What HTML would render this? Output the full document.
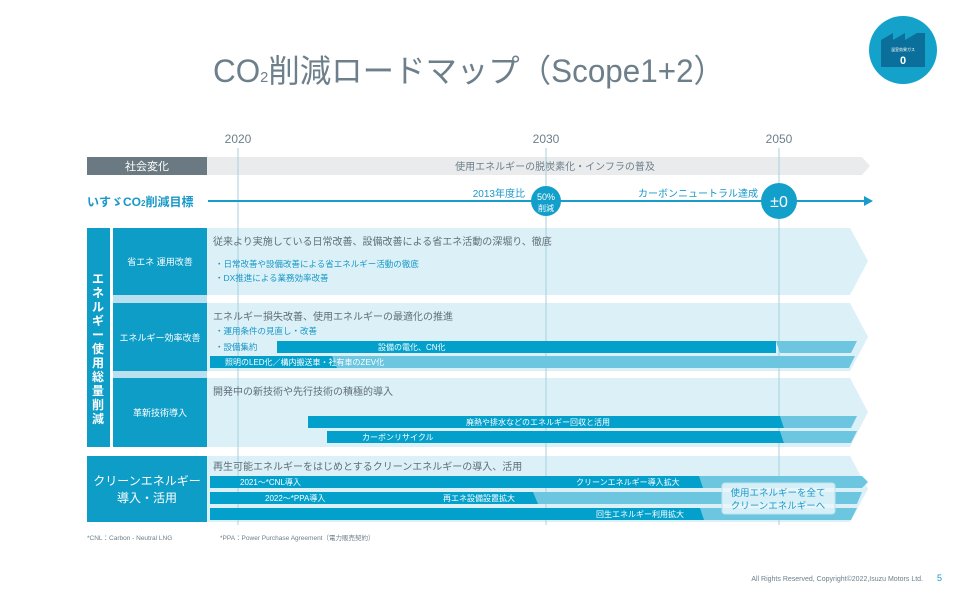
<!DOCTYPE html>
<html><head><meta charset="utf-8"><style>
html,body{margin:0;padding:0;background:#fff;}
svg{display:block;font-family:"Liberation Sans","Noto Sans CJK JP",sans-serif;}
</style></head><body>
<svg width="958" height="599" viewBox="0 0 958 599" xmlns="http://www.w3.org/2000/svg">
<!-- title -->
<text x="213" y="82" font-size="32" fill="#6d7f8a" textLength="512" lengthAdjust="spacingAndGlyphs">CO<tspan font-size="15">2</tspan>削減ロードマップ（Scope1+2）</text>
<!-- icon -->
<circle cx="903" cy="50" r="34" fill="#14a2cb"/>
<path d="M881 40 L893 33 L893 40 L905 33 L905 40 L917 33 L925 33 L925 67 L881 67 Z" fill="#0b6f9b"/>
<text x="903" y="51" text-anchor="middle" font-size="4" fill="#fff">温室効果ガス</text>
<text x="903" y="64" text-anchor="middle" font-size="11" font-weight="bold" fill="#fff">0</text>

<!-- years -->
<g font-size="12" fill="#6d7f8a" text-anchor="middle">
<text x="238" y="143">2020</text><text x="546" y="143">2030</text><text x="779" y="143">2050</text>
</g>

<!-- social bar -->
<path d="M207 157 L862 157 L870 166 L862 175 L207 175 Z" fill="#e9ebed"/>
<rect x="87" y="157" width="120" height="18" fill="#6b7a82"/>
<text x="147" y="170" text-anchor="middle" font-size="11" fill="#fff">社会変化</text>
<text x="555" y="170" text-anchor="middle" font-size="10" fill="#6d7f8a">使用エネルギーの脱炭素化・インフラの普及</text>

<!-- panels -->
<g fill="#dcf0f7">
<path d="M207 228 L850 228 L868 261 L850 295 L207 295 Z"/>
<path d="M207 303 L850 303 L868 337 L850 371 L207 371 Z"/>
<path d="M207 378 L850 378 L868 412 L850 447 L207 447 Z"/>
<path d="M207 456 L850 456 L868 489 L850 522 L207 522 Z"/>
</g>
<rect x="113" y="295" width="94" height="8" fill="#b8e0ee"/>
<rect x="113" y="371" width="94" height="7" fill="#b8e0ee"/>

<!-- vertical lines -->
<g stroke="#a9cfdd" stroke-width="1">
<line x1="238" y1="148" x2="238" y2="525"/>
<line x1="546" y1="148" x2="546" y2="525"/>
<line x1="779" y1="148" x2="779" y2="525"/>
</g>

<!-- target line -->
<text x="87" y="206" font-size="12" fill="#1898c8" font-weight="bold">いすゞCO<tspan font-size="8">2</tspan>削減目標</text>
<line x1="208" y1="201" x2="866" y2="201" stroke="#1a9ccb" stroke-width="2"/>
<path d="M864 196 L873 201 L864 206 Z" fill="#1a9ccb"/>

<!-- bars -->
<g>
<path d="M776 341 L857 341 L851 353 L780 353 Z" fill="#6cc6e0"/>
<rect x="277" y="341" width="499" height="12" fill="#03a0cb"/>
<path d="M210 356 L855 356 L849 368 L210 368 Z" fill="#6cc6e0"/>
<path d="M210 356 L332 356 L337 368 L210 368 Z" fill="#03a0cb"/>

<path d="M780 416 L857 416 L851 428 L784 428 Z" fill="#6cc6e0"/>
<path d="M308 416 L780 416 L784 428 L308 428 Z" fill="#03a0cb"/>
<path d="M780 431 L857 431 L851 443 L784 443 Z" fill="#6cc6e0"/>
<path d="M327 431 L780 431 L784 443 L327 443 Z" fill="#03a0cb"/>

<path d="M210 476 L862 476 L868 482 L862 488 L210 488 Z" fill="#6cc6e0"/>
<path d="M210 476 L699 476 L703 488 L210 488 Z" fill="#03a0cb"/>
<path d="M210 492 L862 492 L857 504 L210 504 Z" fill="#6cc6e0"/>
<path d="M210 492 L533 492 L538 504 L210 504 Z" fill="#03a0cb"/>
<path d="M210 508 L857 508 L851 520 L210 520 Z" fill="#6cc6e0"/>
<path d="M210 508 L700 508 L704 520 L210 520 Z" fill="#03a0cb"/>
</g>

<!-- circles -->
<circle cx="546" cy="201" r="15" fill="#12a0cb"/>
<text x="546" y="200" text-anchor="middle" font-size="9" fill="#fff">50%</text>
<text x="546" y="211" text-anchor="middle" font-size="8" fill="#fff">削減</text>
<circle cx="779" cy="201" r="18" fill="#12a0cb"/>
<text x="779" y="207" text-anchor="middle" font-size="16" fill="#fff">±0</text>
<text x="525" y="197" text-anchor="end" font-size="10" fill="#1898c8">2013年度比</text>
<text x="758" y="197" text-anchor="end" font-size="10" fill="#1898c8">カーボンニュートラル達成</text>

<!-- left boxes -->
<rect x="87" y="228" width="23" height="219" fill="#0e9dc7"/>
<text font-size="12" font-weight="bold" fill="#fff" text-anchor="middle">
<tspan x="98" y="283">エ</tspan><tspan x="98" y="297">ネ</tspan><tspan x="98" y="311">ル</tspan><tspan x="98" y="325">ギ</tspan><tspan x="98" y="339">ー</tspan><tspan x="98" y="353">使</tspan><tspan x="98" y="367">用</tspan><tspan x="98" y="381">総</tspan><tspan x="98" y="395">量</tspan><tspan x="98" y="409">削</tspan><tspan x="98" y="423">減</tspan>
</text>
<g fill="#0e9dc7">
<rect x="113" y="228" width="94" height="67"/>
<rect x="113" y="303" width="94" height="68"/>
<rect x="113" y="378" width="94" height="69"/>
<rect x="87" y="456" width="120" height="66"/>
</g>
<g font-size="9" fill="#fff" text-anchor="middle">
<text x="160" y="265">省エネ 運用改善</text>
<text x="160" y="341">エネルギー効率改善</text>
<text x="160" y="416">革新技術導入</text>
</g>
<text x="147" y="485" text-anchor="middle" font-size="12" fill="#fff">クリーンエネルギー</text>
<text x="147" y="502" text-anchor="middle" font-size="12" fill="#fff">導入・活用</text>

<!-- panel texts -->
<g font-size="10" fill="#5f6e77">
<text x="213" y="245">従来より実施している日常改善、設備改善による省エネ活動の深堀り、徹底</text>
<text x="213" y="320">エネルギー損失改善、使用エネルギーの最適化の推進</text>
<text x="213" y="395">開発中の新技術や先行技術の積極的導入</text>
<text x="213" y="470">再生可能エネルギーをはじめとするクリーンエネルギーの導入、活用</text>
</g>
<g font-size="8.5" fill="#1898c8">
<text x="215" y="267">・日常改善や設備改善による省エネルギー活動の徹底</text>
<text x="215" y="281">・DX推進による業務効率改善</text>
<text x="215" y="334">・運用条件の見直し・改善</text>
<text x="215" y="350">・設備集約</text>
</g>
<g font-size="8" fill="#fff">
<text x="378" y="350">設備の電化、CN化</text>
<text x="225" y="365">照明のLED化／構内搬送車・社有車のZEV化</text>
<text x="466" y="425">廃熱や排水などのエネルギー回収と活用</text>
<text x="362" y="440">カーボンリサイクル</text>
<text x="240" y="485">2021〜*CNL導入</text>
<text x="265" y="501">2022〜*PPA導入</text>
<text x="443" y="501">再エネ設備設置拡大</text>
<text x="576" y="485">クリーンエネルギー導入拡大</text>
<text x="596" y="517">回生エネルギー利用拡大</text>
</g>
<!-- callout -->
<rect x="722" y="483" width="113" height="31" rx="3" fill="#eaf7fb" fill-opacity="0.85" stroke="#bfe2ee"/>
<text x="778" y="496" text-anchor="middle" font-size="9.5" fill="#1898c8">使用エネルギーを全て</text>
<text x="778" y="509" text-anchor="middle" font-size="9.5" fill="#1898c8">クリーンエネルギーへ</text>

<!-- footnotes -->
<g font-size="6.5" fill="#6d7f8a">
<text x="87" y="540">*CNL：Carbon - Neutral LNG</text>
<text x="220" y="540">*PPA：Power Purchase Agreement（電力販売契約）</text>
</g>
<text x="923" y="581" text-anchor="end" font-size="7" fill="#6d7f8a">All Rights Reserved, Copyright©2022,Isuzu Motors Ltd.</text>
<text x="937" y="581" font-size="9" fill="#1898c8">5</text>
</svg>
</body></html>
